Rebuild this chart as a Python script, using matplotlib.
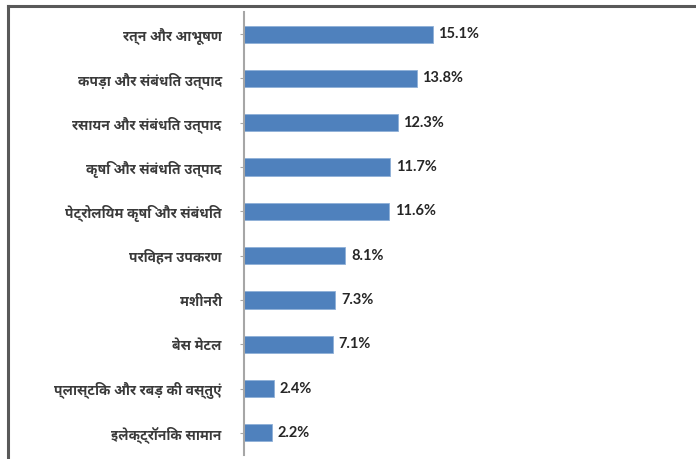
import matplotlib
matplotlib.use('Agg')
import matplotlib.pyplot as plt
from matplotlib.lines import Line2D

categories = ['रत्न और आभूषण', 'कपड़ा और संबंधित उत्पाद', 'रसायन और संबंधित उत्पाद',
              'कृषि और संबंधित उत्पाद', 'पेट्रोलियम कृषि और संबंधित', 'परिवहन उपकरण',
              'मशीनरी', 'बेस मेटल', 'प्लास्टिक और रबड़ की वस्तुएं', 'इलेक्ट्रॉनिक सामान']
shares = [15.1, 13.8, 12.3, 11.7, 11.6, 8.1, 7.3, 7.1, 2.4, 2.2]

fig = plt.figure(figsize=(6.96, 4.59), dpi=100)
ax = fig.add_axes([244/696, 4/459, 1 - 244/696, 443/459])

y = list(range(len(categories)))
ax.barh(y, shares, height=0.39, color='#4F81BD', edgecolor='#8FB0D8', linewidth=0.6)
ax.set_ylim(len(categories) - 0.5, -0.5)
ax.set_xlim(0, (696 - 244) / 12.5)

for yi, v in zip(y, shares):
    ax.text(v + 0.45, yi, f'{v}%', va='center', ha='left', fontsize=10.5,
            fontweight='bold', color='#262626', family='Lato')

ax.set_yticks(y)
ax.set_yticklabels(categories, family=['Noto Sans Devanagari UI', 'DejaVu Sans'],
                   fontsize=10, fontweight='bold', color='#3a3a3a')
ax.tick_params(axis='y', length=3, width=0.8, color='#A6A6A6', pad=13)
ax.set_xticks([])
for s in ['top', 'right', 'bottom']:
    ax.spines[s].set_visible(False)
ax.spines['left'].set_color('#A6A6A6')
ax.spines['left'].set_linewidth(1.5)

# outer frame: only top and left show, the picture is cropped
fig.add_artist(Line2D([7.5/696, 1], [1 - 5.5/459, 1 - 5.5/459], color='#595959', linewidth=2.2))
fig.add_artist(Line2D([7.5/696, 7.5/696], [0, 1 - 5.5/459], color='#595959', linewidth=2.2))

fig.savefig('out.png', dpi=100)
